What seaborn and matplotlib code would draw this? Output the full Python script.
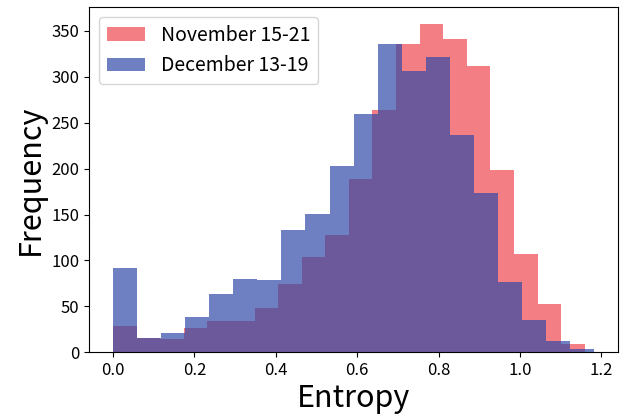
import numpy as np
import pandas as pd
import matplotlib
matplotlib.use("Agg")
import matplotlib.pyplot as plt
import seaborn as sns

# Histogram counts (20 bins each)
nov_label = "November 15-21"
dec_label = "December 13-19"
nov_range = (0.0, 1.159)
dec_range = (0.0, 1.182)
nov_counts = [29, 16, 14, 26, 34, 34, 48, 74, 104, 128,
              189, 264, 336, 358, 341, 312, 198, 107, 53, 9]
dec_counts = [92, 16, 21, 39, 64, 80, 79, 133, 151, 203,
              260, 336, 306, 322, 237, 173, 77, 35, 12, 4]

nov_color = "#EE474F"
dec_color = "#314AA8"

plt.rcParams['font.family'] = ['Noto Sans CJK JP', 'DejaVu Sans']

fig, ax = plt.subplots(figsize=(6.25, 4.16), dpi=100)
fig.subplots_adjust(left=0.1424, right=0.989, bottom=0.153, top=0.983)

def draw(counts, rng, color, label):
    n = len(counts)
    edges = np.linspace(rng[0], rng[1], n + 1)
    centers = (edges[:-1] + edges[1:]) / 2
    df = pd.DataFrame({"Entropy": centers, "count": counts})
    sns.histplot(data=df, x="Entropy", weights="count", bins=[float(e) for e in edges],
                 color=color, alpha=0.7, linewidth=0, label=label, ax=ax)

draw(nov_counts, nov_range, nov_color, nov_label)
draw(dec_counts, dec_range, dec_color, dec_label)

ax.set_xlabel("Entropy", fontsize=22, labelpad=3)
ax.set_ylabel("Frequency", fontsize=22, labelpad=4)
ax.tick_params(labelsize=12)
ax.margins(x=0.05, y=0.05)
ax.set_xticks([0.0, 0.2, 0.4, 0.6, 0.8, 1.0, 1.2])
ax.legend(loc="upper left", fontsize=14)

fig.savefig("out.png", dpi=100)
